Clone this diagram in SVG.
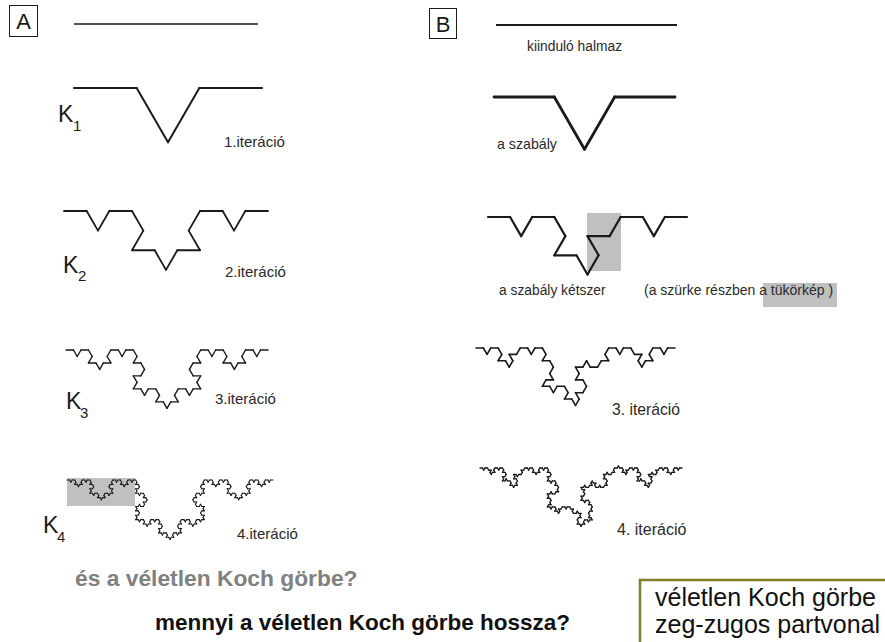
<svg xmlns="http://www.w3.org/2000/svg" width="885" height="642" viewBox="0 0 885 642">
<style>
.curve{fill:none;stroke:#1a1a1a;stroke-linecap:round;stroke-linejoin:round}
.line{fill:none;stroke:#1a1a1a}
.lbl{font-family:"Liberation Sans",Arial,sans-serif;fill:#2a2a2a}
.big{font-family:"Liberation Sans",Arial,sans-serif;fill:#1a1a1a}
.boxl{fill:#fff;stroke:#1a1a1a;stroke-width:1}
.gray{fill:#c0c0c0}
</style>
<defs>
<path id="k0" d="M0 0H1"/>
<g id="k1">
<use href="#k0" transform="scale(.333333)"/>
<use href="#k0" transform="translate(.333333 0) rotate(60) scale(.333333)"/>
<use href="#k0" transform="translate(.5 .288675) rotate(-60) scale(.333333)"/>
<use href="#k0" transform="translate(.666667 0) scale(.333333)"/>
</g>
<g id="k2">
<use href="#k1" transform="scale(.333333)"/>
<use href="#k1" transform="translate(.333333 0) rotate(60) scale(.333333)"/>
<use href="#k1" transform="translate(.5 .288675) rotate(-60) scale(.333333)"/>
<use href="#k1" transform="translate(.666667 0) scale(.333333)"/>
</g>
<g id="k3">
<use href="#k2" transform="scale(.333333)"/>
<use href="#k2" transform="translate(.333333 0) rotate(60) scale(.333333)"/>
<use href="#k2" transform="translate(.5 .288675) rotate(-60) scale(.333333)"/>
<use href="#k2" transform="translate(.666667 0) scale(.333333)"/>
</g>
<g id="k4">
<use href="#k3" transform="scale(.333333)"/>
<use href="#k3" transform="translate(.333333 0) rotate(60) scale(.333333)"/>
<use href="#k3" transform="translate(.5 .288675) rotate(-60) scale(.333333)"/>
<use href="#k3" transform="translate(.666667 0) scale(.333333)"/>
</g>
<g id="v2a">
<use href="#k1" transform="scale(.333333)"/>
<use href="#k1" transform="translate(.333333 0) rotate(60) scale(.333333)"/>
<use href="#k1" transform="translate(.5 .288675) rotate(-60) scale(.333333 -.333333)"/>
<use href="#k1" transform="translate(.666667 0) scale(.333333)"/>
</g>
<g id="v2b">
<use href="#k1" transform="scale(.333333)"/>
<use href="#k1" transform="translate(.333333 0) rotate(60) scale(.333333 -.333333)"/>
<use href="#k1" transform="translate(.5 .288675) rotate(-60) scale(.333333)"/>
<use href="#k1" transform="translate(.666667 0) scale(.333333)"/>
</g>
<g id="v2c">
<use href="#k1" transform="scale(.333333 -.333333)"/>
<use href="#k1" transform="translate(.333333 0) rotate(60) scale(.333333)"/>
<use href="#k1" transform="translate(.5 .288675) rotate(-60) scale(.333333)"/>
<use href="#k1" transform="translate(.666667 0) scale(.333333 -.333333)"/>
</g>
<g id="v2d">
<use href="#k1" transform="scale(.333333)"/>
<use href="#k1" transform="translate(.333333 0) rotate(60) scale(.333333)"/>
<use href="#k1" transform="translate(.5 .288675) rotate(-60) scale(.333333)"/>
<use href="#k1" transform="translate(.666667 0) scale(.333333 -.333333)"/>
</g>
<g id="v2e">
<use href="#k1" transform="scale(.333333 -.333333)"/>
<use href="#k1" transform="translate(.333333 0) rotate(60) scale(.333333)"/>
<use href="#k1" transform="translate(.5 .288675) rotate(-60) scale(.333333 -.333333)"/>
<use href="#k1" transform="translate(.666667 0) scale(.333333)"/>
</g>
<g id="b3">
<use href="#v2a" transform="scale(.333333)"/>
<use href="#v2b" transform="translate(.333333 0) rotate(60) scale(.333333)"/>
<use href="#v2d" transform="translate(.5 .288675) rotate(-60) scale(.333333 -.333333)"/>
<use href="#v2b" transform="translate(.666667 0) scale(.333333)"/>
</g>
<g id="w3a">
<use href="#v2b" transform="scale(.333333)"/>
<use href="#v2a" transform="translate(.333333 0) rotate(60) scale(.333333)"/>
<use href="#v2e" transform="translate(.5 .288675) rotate(-60) scale(.333333 -.333333)"/>
<use href="#k2" transform="translate(.666667 0) scale(.333333)"/>
</g>
<g id="w3b">
<use href="#k2" transform="scale(.333333)"/>
<use href="#v2c" transform="translate(.333333 0) rotate(60) scale(.333333)"/>
<use href="#v2a" transform="translate(.5 .288675) rotate(-60) scale(.333333)"/>
<use href="#v2d" transform="translate(.666667 0) scale(.333333 -.333333)"/>
</g>
<g id="w3c">
<use href="#v2a" transform="scale(.333333 -.333333)"/>
<use href="#v2d" transform="translate(.333333 0) rotate(60) scale(.333333)"/>
<use href="#v2b" transform="translate(.5 .288675) rotate(-60) scale(.333333)"/>
<use href="#v2c" transform="translate(.666667 0) scale(.333333)"/>
</g>
<g id="w3d">
<use href="#v2e" transform="scale(.333333)"/>
<use href="#v2a" transform="translate(.333333 0) rotate(60) scale(.333333)"/>
<use href="#v2b" transform="translate(.5 .288675) rotate(-60) scale(.333333 -.333333)"/>
<use href="#k2" transform="translate(.666667 0) scale(.333333)"/>
</g>
<g id="b4">
<use href="#w3a" transform="scale(.333333)"/>
<use href="#w3b" transform="translate(.333333 0) rotate(60) scale(.333333)"/>
<use href="#w3c" transform="translate(.5 .288675) rotate(-60) scale(.333333 -.333333)"/>
<use href="#w3d" transform="translate(.666667 0) scale(.333333)"/>
</g>
</defs>

<rect width="885" height="642" fill="#fff"/>

<g id="panelA-label">
<rect class="boxl" x="9.5" y="5.5" width="28" height="31"/>
<text class="big" x="23.5" y="29" font-size="22" text-anchor="middle">A</text>
</g>
<g id="A-K0">
<line class="line" x1="74" y1="24" x2="258" y2="24" stroke-width="1.6"/>
</g>
<g id="A-K1">
<use class="curve" href="#k1" transform="translate(74 88) scale(188)" style="stroke-width:.0319"/>
<text class="big" x="58" y="122" font-size="23">K</text>
<text class="big" x="73" y="131" font-size="15">1</text>
<text class="lbl" x="224" y="147" font-size="15">1.iteráció</text>
</g>
<g id="A-K2">
<use class="curve" href="#k2" transform="translate(64 211) scale(204)" style="stroke-width:.0794"/>
<text class="big" x="63" y="273" font-size="23">K</text>
<text class="big" x="78" y="281" font-size="15">2</text>
<text class="lbl" x="225" y="277" font-size="15">2.iteráció</text>
</g>
<g id="A-K3">
<use class="curve" href="#k3" transform="translate(66 350) scale(202)" style="stroke-width:.187"/>
<text class="big" x="66" y="409" font-size="23">K</text>
<text class="big" x="80" y="418" font-size="15">3</text>
<text class="lbl" x="215" y="404" font-size="15">3.iteráció</text>
</g>
<g id="A-K4">
<rect class="gray" x="67" y="478" width="68" height="28"/>
<use class="curve" href="#k4" transform="translate(67 480) scale(206)" style="stroke-width:.43"/>
<text class="big" x="43" y="533" font-size="23">K</text>
<text class="big" x="57" y="542" font-size="15">4</text>
<text class="lbl" x="237" y="539" font-size="15">4.iteráció</text>
</g>

<g id="panelB-label">
<rect class="boxl" x="429.5" y="8.5" width="27" height="30"/>
<text class="big" x="443" y="32" font-size="22" text-anchor="middle">B</text>
</g>
<g id="B-K0">
<line class="line" x1="496" y1="25" x2="677" y2="25" stroke-width="2"/>
<text class="lbl" x="527" y="51" font-size="13.8">kiinduló halmaz</text>
</g>
<g id="B-K1">
<use class="curve" href="#k1" transform="translate(494 97) scale(181)" style="stroke-width:.0464"/>
<text class="lbl" x="497" y="149" font-size="14.2">a szabály</text>
</g>
<g id="B-K2">
<rect class="gray" x="587" y="213" width="34" height="58"/>
<use class="curve" href="#v2a" transform="translate(488 217) scale(199)" style="stroke-width:.0995"/>
<text class="lbl" x="499" y="295" font-size="13.8">a szabály kétszer</text>
<rect class="gray" x="763" y="283" width="74" height="24"/>
<text class="lbl" x="644" y="295" font-size="14">(a szürke részben a tükörkép )</text>
</g>
<g id="B-K3">
<use class="curve" href="#b3" transform="translate(476 348) scale(199)" style="stroke-width:.217"/>
<text class="lbl" x="612" y="415" font-size="15.7">3. iteráció</text>
</g>
<g id="B-K4">
<use class="curve" href="#b4" transform="translate(480 468) scale(202)" style="stroke-width:.52"/>
<text class="lbl" x="617" y="535" font-size="16">4. iteráció</text>
</g>

<g id="question1">
<text x="75" y="586" font-family="'Liberation Sans',Arial,sans-serif" font-weight="bold" font-size="22.8" fill="#808080">és a véletlen Koch görbe?</text>
</g>
<g id="question2">
<text x="155" y="630" font-family="'Liberation Sans',Arial,sans-serif" font-weight="bold" font-size="22.5" fill="#111">mennyi a véletlen Koch görbe hossza?</text>
</g>
<g id="note-box">
<rect x="640" y="580" width="260" height="80" fill="#fff" stroke="#80802a" stroke-width="2.5"/>
<text x="655" y="606" font-family="'Liberation Sans',Arial,sans-serif" font-size="25" fill="#111">véletlen Koch görbe</text>
<text x="655" y="633" font-family="'Liberation Sans',Arial,sans-serif" font-size="25" fill="#111">zeg-zugos partvonal</text>
</g>
</svg>
